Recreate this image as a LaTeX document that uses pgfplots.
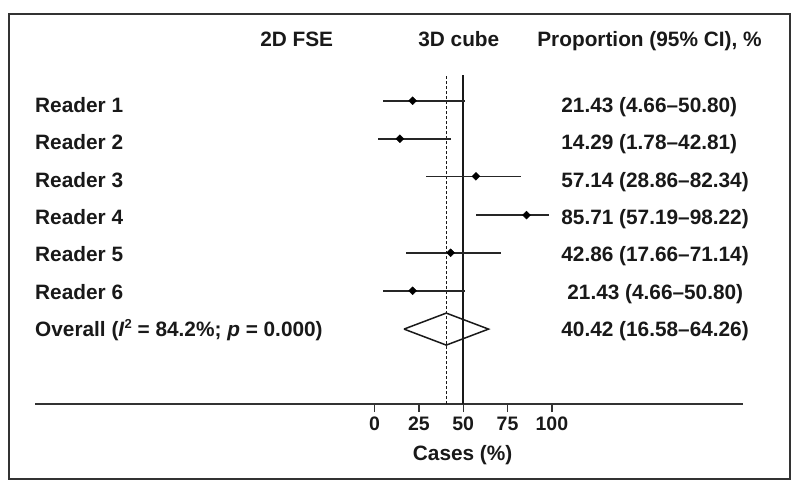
\documentclass[border=0pt]{standalone}
\usepackage{pgfplots}
\pgfplotsset{compat=1.18}
\usepackage{pgfplotstable}
\usepackage{fontspec}
\setmainfont{Liberation Sans}
\tikzset{lab/.style={inner sep=0pt, font=\fontsize{20.8}{24}\selectfont\bfseries, text=black!90},
         tl/.style={inner sep=0pt, anchor=base, font=\fontsize{19.5}{22}\selectfont\bfseries, text=black!90}}
\pgfplotstableread{
y est em ep
389.3 21.43 16.77 29.37
351.3 14.29 12.51 28.52
313.7 57.14 28.28 25.20
275.0 85.71 28.52 12.51
237.3 42.86 25.20 28.28
199.3 21.43 16.77 29.37
}\readers
\begin{document}
\begin{tikzpicture}
\begin{axis}[
  scale only axis, width=708pt, height=390pt,
  xmin=-191.59, xmax=207.96, ymin=86, ymax=476,
  axis x line=bottom, axis y line=none,
  x axis line style={-, line width=1.6pt, black!80},
  xtick={0,25,50,75,100}, xticklabels={},
  tick align=outside, major tick length=8pt,
  tick style={line width=1.4pt, black!80},
  clip=false,
]
% invisible page box and frame
\path (axis cs:-211.35,0) rectangle (axis cs:239.99,490);
\draw[line width=1.7pt, black!80] (axis cs:-206.3,11) rectangle (axis cs:234.5,476);
% reference lines
\addplot[black!90, line width=1.4pt, dash pattern=on 3pt off 2pt] coordinates {(40.42,86) (40.42,415)};
\addplot[black!90, line width=1.5pt] coordinates {(50,86) (50,415)};
% readers
\addplot[only marks, mark=square*, mark size=2.8pt, mark options={rotate=45, black}, black,
  error bars/.cd, x dir=both, x explicit, error mark=none,
  error bar style={line width=1.6pt, black!85}]
  table[x=est, y=y, x error minus=em, x error plus=ep] {\readers};
% overall diamond
\addplot[black!90, line width=1.5pt] coordinates {(16.58,161) (40.42,177) (64.26,161) (40.42,145) (16.58,161)};
% headers
\node[lab, anchor=base west] at (axis cs:-64.62,443.3) {2D FSE};
\node[lab, anchor=base west] at (axis cs:24.55,443.3) {3D cube};
\node[lab, anchor=base west] at (axis cs:91.70,443.3) {Proportion (95\% CI), \%};
% left labels
\node[lab, anchor=base west] at (axis cs:-191.59,377.7) {Reader 1};
\node[lab, anchor=base west] at (axis cs:-191.59,340.37) {Reader 2};
\node[lab, anchor=base west] at (axis cs:-191.59,303.04) {Reader 3};
\node[lab, anchor=base west] at (axis cs:-191.59,265.71) {Reader 4};
\node[lab, anchor=base west] at (axis cs:-191.59,228.38) {Reader 5};
\node[lab, anchor=base west] at (axis cs:-191.59,191.05) {Reader 6};
\node[lab, anchor=base west] at (axis cs:-191.59,153.72) {Overall (\textit{I}\raisebox{0.4em}{\fontsize{13}{13}\selectfont 2} = 84.2\%; \textit{p} = 0.000)};
% right labels
\node[lab, anchor=base west] at (axis cs:105.25,377.7) {21.43 (4.66--50.80)};
\node[lab, anchor=base west] at (axis cs:105.25,340.37) {14.29 (1.78--42.81)};
\node[lab, anchor=base west] at (axis cs:105.25,303.04) {57.14 (28.86--82.34)};
\node[lab, anchor=base west] at (axis cs:105.25,265.71) {85.71 (57.19--98.22)};
\node[lab, anchor=base west] at (axis cs:105.25,228.38) {42.86 (17.66--71.14)};
\node[lab, anchor=base west] at (axis cs:108.63,191.05) {21.43 (4.66--50.80)};
\node[lab, anchor=base west] at (axis cs:105.25,153.72) {40.42 (16.58--64.26)};
% tick labels and axis label
\node[tl] at (axis cs:0,60) {0};
\node[tl] at (axis cs:25,60) {25};
\node[tl] at (axis cs:50,60) {50};
\node[tl] at (axis cs:75,60) {75};
\node[tl] at (axis cs:100,60) {100};
\node[lab, anchor=base] at (axis cs:49.66,30) {Cases (\%)};
\end{axis}
\end{tikzpicture}
\end{document}
